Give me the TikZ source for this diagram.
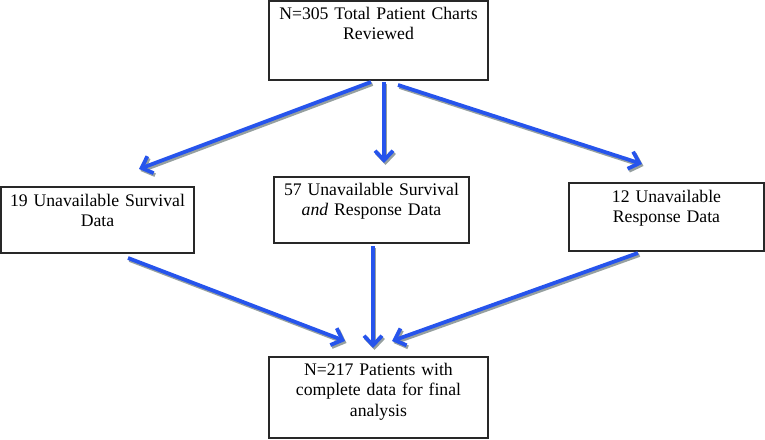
\documentclass[tikz,border=0pt]{standalone}
\usepackage{fontspec}
\setmainfont{Liberation Serif}
\usetikzlibrary{arrows.meta,calc}
\definecolor{arrowblue}{RGB}{38,84,236}
\definecolor{shadowgray}{RGB}{150,160,160}
\definecolor{boxline}{RGB}{40,40,40}
\begin{document}
\begin{tikzpicture}[x=1pt,y=-1pt,
  box/.style={draw=boxline,line width=1.3pt,fill=white,inner sep=0pt},
  lbl/.style={font=\fontsize{17.7}{20.5}\selectfont, align=center, text width=200pt, anchor=base, inner sep=0pt},
  flow/.style={draw=arrowblue,line width=3.8pt,-{Straight Barb[length=9.5pt,width=18pt]}},
  flowshadow/.style={draw=shadowgray,line width=3.8pt,-{Straight Barb[length=9.5pt,width=18pt]},transform canvas={xshift=1.5pt,yshift=-2pt}}]
\useasboundingbox (0,0) rectangle (765,439);
% boxes
\node[box,minimum width=219,minimum height=79] (top) at (378.5,40.5) {};
\node[box,minimum width=193,minimum height=66] (left) at (97.5,220) {};
\node[box,minimum width=195,minimum height=66] (mid) at (371.5,210) {};
\node[box,minimum width=195,minimum height=68] (right) at (666.5,217) {};
\node[box,minimum width=219,minimum height=81] (bot) at (378.5,397.5) {};
% texts
\node[lbl] (toptext) at (378.5,19) {N=305 Total Patient Charts\\Reviewed};
\node[lbl] (lefttext) at (97.5,206) {19 Unavailable Survival\\Data};
\node[lbl] (midtext) at (371.5,195) {57 Unavailable Survival\\\textit{and} Response Data};
\node[lbl] (righttext) at (666.5,202) {12 Unavailable\\Response Data};
\node[lbl] (bottext) at (378.5,375) {N=217 Patients with\\complete data for final\\analysis};
% connector end points
\coordinate (s1) at (371,82);
\coordinate (e1) at (139,169);
\coordinate (s2) at (384,82);
\coordinate (e2) at (384,163);
\coordinate (s3) at (398,85);
\coordinate (e3) at (642,164);
\coordinate (s4) at (128,258);
\coordinate (e4) at (345,341);
\coordinate (s5) at (373,246);
\coordinate (e5) at (373,348);
\coordinate (s6) at (638,253);
\coordinate (e6) at (392,341);
% shadows
\foreach \a/\b in {s1/e1,s2/e2,s3/e3,s4/e4,s5/e5,s6/e6}
  \draw[flowshadow] (\a) -- (\b);
% arrows
\foreach \a/\b in {s1/e1,s2/e2,s3/e3,s4/e4,s5/e5,s6/e6}
  \draw[flow] (\a) -- (\b);
\end{tikzpicture}
\end{document}
